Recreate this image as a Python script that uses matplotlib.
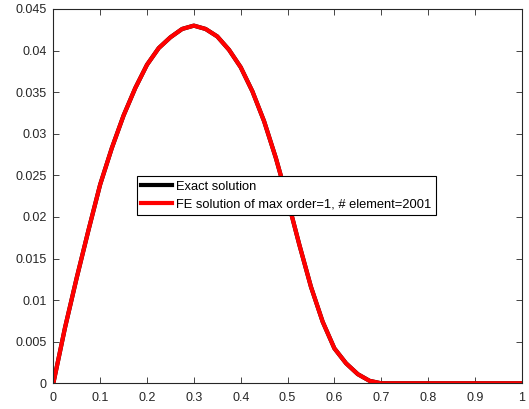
import matplotlib
matplotlib.use("Agg")
import matplotlib.pyplot as plt

plt.rcParams['font.family'] = ['Liberation Sans', 'DejaVu Sans']

# values
x_vals = [0.0, 0.025, 0.05, 0.075, 0.1, 0.125, 0.15, 0.175, 0.2, 0.225,
          0.25, 0.275, 0.3, 0.325, 0.35, 0.375, 0.4, 0.425, 0.45, 0.475,
          0.5, 0.525, 0.55, 0.575, 0.6, 0.625, 0.65, 0.675, 0.7, 0.8, 0.9, 1.0]
exact_vals = [0.0, 0.0067, 0.0127, 0.0184, 0.0239, 0.0283, 0.0322, 0.0355, 0.0383, 0.0403,
              0.0416, 0.0426, 0.0430, 0.0426, 0.0417, 0.0401, 0.0380, 0.0351, 0.0315, 0.0271,
              0.0221, 0.0167, 0.0116, 0.0074, 0.0042, 0.0024, 0.0011, 0.0003, 0.0, 0.0, 0.0, 0.0]
fe_vals = list(exact_vals)

xticks = [0, 0.1, 0.2, 0.3, 0.4, 0.5, 0.6, 0.7, 0.8, 0.9, 1]
xticklabels = ['0', '0.1', '0.2', '0.3', '0.4', '0.5', '0.6', '0.7', '0.8', '0.9', '1']
yticks = [0, 0.005, 0.01, 0.015, 0.02, 0.025, 0.03, 0.035, 0.04, 0.045]
yticklabels = ['0', '0.005', '0.01', '0.015', '0.02', '0.025', '0.03', '0.035', '0.04', '0.045']

fig = plt.figure(figsize=(5.29, 4.09), dpi=100)
ax = fig.add_axes([0.1008, 0.0628, 0.8855, 0.9152])

ax.plot(x_vals, exact_vals, color='black', lw=3, label='Exact solution',
        solid_joinstyle='round')
ax.plot(x_vals, fe_vals, color='#ff0000', lw=3,
        label='FE solution of max order=1, # element=2001', solid_joinstyle='round')

ax.set_xlim(0, 1)
ax.set_ylim(0, 0.045)
ax.set_xticks(xticks)
ax.set_xticklabels(xticklabels)
ax.set_yticks(yticks)
ax.set_yticklabels(yticklabels)

grey = '#262626'
for s in ax.spines.values():
    s.set_color(grey)
    s.set_linewidth(0.8)
ax.tick_params(direction='in', length=4, width=0.6, colors=grey, labelsize=9,
               top=True, right=True, labelcolor=grey)
ax.tick_params(axis='x', pad=6)
ax.tick_params(axis='y', pad=5)

leg = ax.legend(loc='upper left', bbox_to_anchor=(0.178, 0.554), borderaxespad=0,
                fontsize=9.3, frameon=True, fancybox=False, framealpha=1,
                edgecolor='black', handlelength=2.4, handletextpad=0.3,
                borderpad=0.37, labelspacing=0.45)
leg.get_frame().set_linewidth(0.8)

fig.savefig('out.png', dpi=100)
